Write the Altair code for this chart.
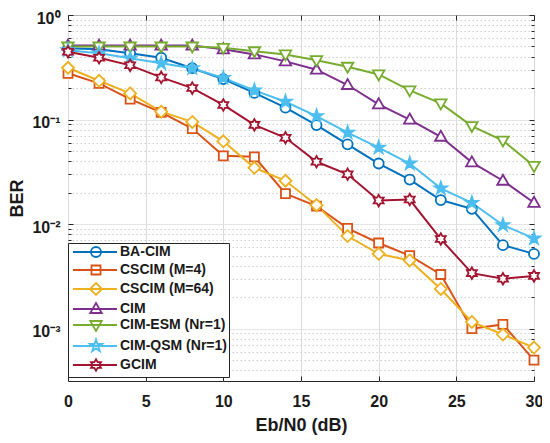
import altair as alt
import pandas as pd

snr = [0, 2, 4, 6, 8, 10, 12, 14, 16, 18, 20, 22, 24, 26, 28, 30]
series_names = ["BA-CIM", "CSCIM (M=4)", "CSCIM (M=64)", "CIM", "CIM-ESM (Nr=1)", "CIM-QSM (Nr=1)", "GCIM"]
marker_ids = ["m0", "m1", "m2", "m3", "m4", "m5", "m6"]
colors = ["#0072BD", "#D95319", "#EDB120", "#7E2F8E", "#77AC30", "#4DBEEE", "#A2142F"]

ba_cim = [0.48, 0.47, 0.43, 0.39, 0.31, 0.244, 0.18, 0.13, 0.0886, 0.058, 0.038, 0.0267, 0.017, 0.014, 0.0063, 0.0052]
cscim_m4 = [0.277, 0.222, 0.157, 0.117, 0.082, 0.045, 0.044, 0.0196, 0.0149, 0.0091, 0.0066, 0.0050, 0.0033, 0.00100, 0.0011, 0.0005]
cscim_m64 = [0.313, 0.235, 0.178, 0.119, 0.095, 0.062, 0.0346, 0.026, 0.0152, 0.0077, 0.0052, 0.0045, 0.0024, 0.00116, 0.00088, 0.00066]
cim = [0.51, 0.51, 0.51, 0.51, 0.51, 0.47, 0.42, 0.36, 0.30, 0.214, 0.14, 0.10, 0.0685, 0.039, 0.026, 0.016]
cim_esm = [0.50, 0.50, 0.50, 0.50, 0.50, 0.485, 0.45, 0.42, 0.37, 0.32, 0.27, 0.19, 0.143, 0.0867, 0.063, 0.036]
cim_qsm = [0.46, 0.43, 0.385, 0.345, 0.31, 0.25, 0.19, 0.148, 0.108, 0.075, 0.054, 0.038, 0.022, 0.016, 0.0098, 0.0073]
gcim = [0.445, 0.39, 0.33, 0.253, 0.20, 0.138, 0.089, 0.067, 0.0395, 0.030, 0.0168, 0.0172, 0.0072, 0.0034, 0.0030, 0.0032]

x_ticks = [0, 5, 10, 15, 20, 25, 30]
y_major = [1, 0.1, 0.01, 0.001]
y_minor = [m * d for d in [0.1, 0.01, 0.001, 0.0001] for m in range(2, 10) if m * d > 10 ** -3.5]

all_series = [ba_cim, cscim_m4, cscim_m64, cim, cim_esm, cim_qsm, gcim]
rows = []
for name, mid, vals in zip(series_names, marker_ids, all_series):
    for x, v in zip(snr, vals):
        rows.append({"snr": x, "ber": v, "series": name, "marker": mid})
df = pd.DataFrame(rows)


# ---- marker shapes (unit paths, shifted by c) ----
def poly(points, c=0.0):
    return "M" + " L".join(f"{x + c:.3f},{y:.3f}" for x, y in points) + " Z"


def circle(c=0.0, r=1.0):
    return f"M{c + r:.3f},0 A{r},{r} 0 1,1 {c - r:.3f},0 A{r},{r} 0 1,1 {c + r:.3f},0 Z"


def marker(kind, c=0.0):
    if kind == "circle":
        return circle(c, 1.0)
    if kind == "square":
        s = 0.9
        return poly([(-s, -s), (s, -s), (s, s), (-s, s)], c)
    if kind == "diamond":
        s = 1.2
        return poly([(0, -s), (s, 0), (0, s), (-s, 0)], c)
    if kind == "tri_up":
        return poly([(0, -1.2), (1.15, 0.8), (-1.15, 0.8)], c)
    if kind == "tri_down":
        return poly([(0, 1.2), (1.15, -0.8), (-1.15, -0.8)], c)
    if kind == "star":
        R = 1.3
        pts = [(0, -1), (0.2245, -0.309), (0.951, -0.309), (0.363, 0.118), (0.588, 0.809),
               (0, 0.382), (-0.588, 0.809), (-0.363, 0.118), (-0.951, -0.309), (-0.2245, -0.309)]
        return poly([(x * R, y * R) for x, y in pts], c)
    if kind == "hexagram":
        R = 1.15
        pts = [(0, -1), (0.289, -0.5), (0.866, -0.5), (0.577, 0), (0.866, 0.5), (0.289, 0.5),
               (0, 1), (-0.289, 0.5), (-0.866, 0.5), (-0.577, 0), (-0.866, -0.5), (-0.289, -0.5)]
        return poly([(x * R, y * R) for x, y in pts], c)


kinds = ["circle", "square", "diamond", "tri_up", "tri_down", "star", "hexagram"]
chart_paths = [marker(k) for k in kinds]

leg_c = 3.8
leg_line = "M-0.8,0 L8.0,0 "
leg_paths = [leg_line + marker(k, leg_c) for k in kinds]
sym_expr = ""
for name, p in zip(series_names[:-1], leg_paths[:-1]):
    sym_expr += f"datum.value === '{name}' ? '{p}' : "
sym_expr += f"'{leg_paths[-1]}'"

FONT = "Liberation Sans"
TXT = "#1a1a1a"
FRAME = "#262626"
STAR = "CIM-QSM (Nr=1)"

major_test = "abs(log(datum.value)/LN10 - round(log(datum.value)/LN10)) < 0.01"
exp_e = "round(log(datum.value)/LN10)"
label_expr = (f"{major_test} ? ({exp_e} == 0 ? '10⁰' : {exp_e} == -1 ? '10⁻¹' : "
              f"{exp_e} == -2 ? '10⁻²' : '10⁻³') : ''")

xscale = alt.Scale(domain=[0, 30], nice=False, zero=False)
yscale = alt.Scale(type="log", domain=[10 ** -3.5, 1], nice=False)

legend = alt.Legend(
    title=None, orient="none", legendX=0, legendY=228,
    symbolType={"expr": sym_expr}, symbolSize=100, symbolStrokeWidth=1.8,
    symbolFillColor={"expr": f"datum.value === '{STAR}' ? '{colors[5]}' : 'white'"},
    labelFont=FONT, labelFontSize=14, labelFontWeight="bold", labelColor=TXT,
    labelOffset=36, rowPadding=0, padding=2,
    fillColor="white", strokeColor=FRAME, cornerRadius=0,
)
color = alt.Color("series:N", scale=alt.Scale(domain=series_names, range=colors), legend=legend)

base = alt.Chart(df)

lines = base.mark_line(strokeWidth=2).encode(
    x=alt.X("snr:Q", scale=xscale, axis=alt.Axis(
        values=x_ticks, title="Eb/N0 (dB)", grid=True, gridColor="#dcdcdc", domain=False,
        ticks=False, labelPadding=12, labelFont=FONT, labelFontSize=16, labelFontWeight="bold",
        labelColor=TXT, labelFlush=False, titleFont=FONT, titleFontSize=18, titleFontWeight="bold",
        titleColor=TXT, titlePadding=7)),
    y=alt.Y("ber:Q", scale=yscale, axis=alt.Axis(
        values=y_major + y_minor, title="BER", grid=True,
        gridDash={"condition": {"test": major_test, "value": [1, 0]}, "value": [1.5, 2.5]},
        gridColor={"condition": {"test": major_test, "value": "#dcdcdc"}, "value": "#cccccc"},
        domain=False, ticks=False, labelExpr=label_expr, labelOverlap=False, labelFlush=False,
        labelPadding=8, labelOffset=3, labelFont=FONT, labelFontSize=16, labelFontWeight="bold",
        labelColor=TXT, titleFont=FONT, titleFontSize=18, titleFontWeight="bold", titleColor=TXT,
        titlePadding=5)),
    color=color,
    order="snr:Q",
)

tick_y = {"condition": {"test": major_test, "value": 5}, "value": 3}

points = base.mark_point(filled=False, size=100, strokeWidth=1.8, opacity=1).encode(
    x=alt.X("snr:Q", scale=xscale, axis=alt.Axis(
        orient="top", offset=-366, values=x_ticks, labels=False, grid=False, domain=False,
        tickSize=5, tickColor=FRAME, title="")),
    y=alt.Y("ber:Q", scale=yscale, axis=alt.Axis(
        orient="right", offset=-466, values=y_major + y_minor, labels=False, grid=False,
        domain=False, tickSize=tick_y, tickColor=FRAME, title="")),
    color=color,
    fill=alt.condition(f"datum.series === '{STAR}'", alt.value(colors[5]), alt.value("white")),
    shape=alt.Shape("marker:N", scale=alt.Scale(domain=marker_ids, range=chart_paths), legend=None),
)

ghost = base.mark_point(opacity=0).encode(
    x=alt.X("snr:Q", scale=xscale, axis=alt.Axis(
        orient="bottom", offset=-366, values=x_ticks, labels=False, grid=False, domain=False,
        tickSize=5, tickColor=FRAME, title="")),
    y=alt.Y("ber:Q", scale=yscale, axis=alt.Axis(
        orient="left", offset=-466, values=y_major + y_minor, labels=False, grid=False,
        domain=False, tickSize=tick_y, tickColor=FRAME, title="")),
)

chart = alt.layer(lines, points, ghost).resolve_axis(x="independent", y="independent").properties(
    width=466, height=366,
    autosize=alt.AutoSizeParams(type="none"),
    padding={"left": 60, "top": 7, "right": 8, "bottom": 54},
    background="white",
).configure_view(stroke=FRAME, strokeWidth=1)

chart.save("out.html", embed_options={"renderer": "svg", "actions": False})
